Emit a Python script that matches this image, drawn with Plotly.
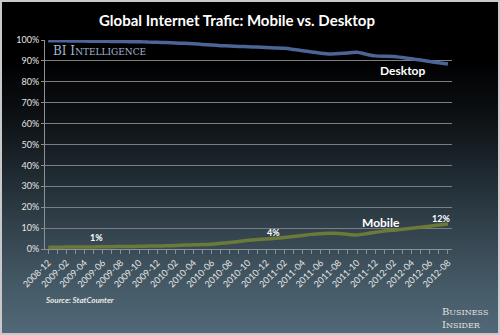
import plotly.graph_objects as go

months = ["2008-12","2009-01","2009-02","2009-03","2009-04","2009-05","2009-06","2009-07","2009-08","2009-09",
          "2009-10","2009-11","2009-12","2010-01","2010-02","2010-03","2010-04","2010-05","2010-06","2010-07",
          "2010-08","2010-09","2010-10","2010-11","2010-12","2011-01","2011-02","2011-03","2011-04","2011-05",
          "2011-06","2011-07","2011-08","2011-09","2011-10","2011-11","2011-12","2012-01","2012-02","2012-03",
          "2012-04","2012-05","2012-06","2012-07","2012-08"]
desktop = [99.7,99.6,99.6,99.5,99.5,99.4,99.4,99.3,99.3,99.2,
           99.2,99.0,98.9,98.8,98.6,98.4,98.2,97.9,97.6,97.3,
           97.1,96.9,96.8,96.6,96.4,96.2,96.0,95.5,94.9,94.3,
           93.7,93.3,93.5,93.8,94.1,93.2,92.4,92.2,92.1,91.6,
           91.0,90.4,89.7,89.1,88.5]
mobile = [0.8,0.8,0.9,0.9,1.0,1.0,1.1,1.1,1.2,1.2,
          1.3,1.4,1.4,1.5,1.7,1.9,2.0,2.1,2.3,2.7,
          3.1,3.6,4.2,4.5,4.8,5.1,5.5,6.0,6.5,7.0,
          7.3,7.5,7.4,7.0,6.7,7.3,8.0,8.6,9.0,9.4,
          9.9,10.4,10.9,11.5,12.0]
y_ticks = [0,10,20,30,40,50,60,70,80,90,100]
y_ticklabels = ["0%","10%","20%","30%","40%","50%","60%","70%","80%","90%","100%"]

W, H = 500, 335
L, R, T, B = 45, 48, 40, 86
pw, ph = W - L - R, H - T - B

def px(x):
    return (x - L) / pw
def py(y):
    return (H - B - y) / ph

idx = list(range(len(months)))
tickvals = idx[::2]
ticktext = months[::2]

fig = go.Figure()
fig.add_trace(go.Scatter(x=idx, y=desktop, mode="lines", name="Desktop",
                         line=dict(color="#4a6596", width=3.5, shape="spline", smoothing=0.4)))
fig.add_trace(go.Scatter(x=idx, y=mobile, mode="lines", name="Mobile",
                         line=dict(color="#6b7a38", width=3.5, shape="spline", smoothing=0.4)))

# background gradient bands
stops = [(0, (0, 0, 0)), (60, (0, 0, 0)), (120, (14, 18, 22)), (170, (30, 40, 47)),
         (230, (51, 67, 77)), (290, (70, 91, 104)), (335, (82, 105, 119))]
shapes = []
step = 3
for y0 in range(0, H, step):
    yc = y0 + step / 2
    for k in range(len(stops) - 1):
        if stops[k][0] <= yc <= stops[k + 1][0]:
            a, ca = stops[k]
            b, cb = stops[k + 1]
            t = (yc - a) / (b - a)
            c = tuple(int(round(ca[j] + (cb[j] - ca[j]) * t)) for j in range(3))
            break
    shapes.append(dict(type="rect", xref="paper", yref="paper", layer="below",
                       x0=px(0), x1=px(W), y0=py(y0 + step + 0.5), y1=py(y0),
                       fillcolor="rgb(%d,%d,%d)" % c, line=dict(width=0)))
shapes.append(dict(type="rect", xref="paper", yref="paper", layer="above",
                   x0=px(1), x1=px(W - 1), y0=py(H - 1), y1=py(1),
                   line=dict(color="#c9c9c9", width=2), fillcolor="rgba(0,0,0,0)"))

ann = []
ann.append(dict(text="<b>Global Internet Trafic: Mobile vs. Desktop</b>", xref="paper", yref="paper",
                x=px(237), y=py(20), showarrow=False, xanchor="center", yanchor="middle",
                font=dict(family="Lato", size=15, color="white")))
ann.append(dict(text="BI I<span style='font-size:9px'>NTELLIGENCE</span>",
                xref="paper", yref="paper", x=px(51), y=py(51), showarrow=False,
                xanchor="left", yanchor="middle",
                font=dict(family="DejaVu Serif", size=12, color="#a4b5d0")))
for txt, xi, yv, sz in [("1%", 5.3, 5.3, 9), ("4%", 24.75, 7.7, 9), ("12%", 43.2, 14.8, 9),
                        ("Mobile", 36.6, 12.9, 12), ("Desktop", 39.05, 85.6, 12)]:
    ann.append(dict(text="<b>%s</b>" % txt, x=xi, y=yv, xref="x", yref="y", showarrow=False,
                    xanchor="center", yanchor="middle",
                    font=dict(family="Lato", size=sz, color="white")))
ann.append(dict(text="<b><i>Source: StatCounter</i></b>", xref="paper", yref="paper",
                x=px(43), y=py(300), showarrow=False, xanchor="left", yanchor="middle",
                font=dict(family="Lato", size=8, color="#e8e8e8")))
ann.append(dict(text="B<span style='font-size:8px'>USINESS</span><br>I<span style='font-size:8px'>NSIDER</span>",
                xref="paper", yref="paper", x=px(490), y=py(318), showarrow=False,
                xanchor="right", yanchor="middle", align="left",
                font=dict(family="DejaVu Serif", size=10, color="#e0e0e0")))

fig.update_layout(
    width=W, height=H, margin=dict(l=L, r=R, t=T, b=B),
    paper_bgcolor="#000000", plot_bgcolor="rgba(0,0,0,0)",
    showlegend=False, shapes=shapes, annotations=ann,
    xaxis=dict(range=[-0.35, 44.45], tickvals=tickvals, ticktext=ticktext, tickangle=-45,
               showgrid=False, zeroline=False, showline=True, linecolor="#8a9298", linewidth=1,
               ticks="outside", ticklen=4, tickcolor="#8a9298",
               minor=dict(tickvals=idx, ticks="outside", ticklen=4, tickcolor="#8a9298"),
               tickfont=dict(family="Lato", size=9, color="#e6e6e6")),
    yaxis=dict(range=[0, 100], tickvals=y_ticks, ticktext=y_ticklabels,
               showgrid=True, gridcolor="#7c7f82", gridwidth=1, zeroline=False,
               showline=True, linecolor="#8a9298", linewidth=1,
               ticks="outside", ticklen=3, tickcolor="#8a9298",
               tickfont=dict(family="Lato", size=9, color="#e6e6e6")),
)
fig.write_html("out.html")
